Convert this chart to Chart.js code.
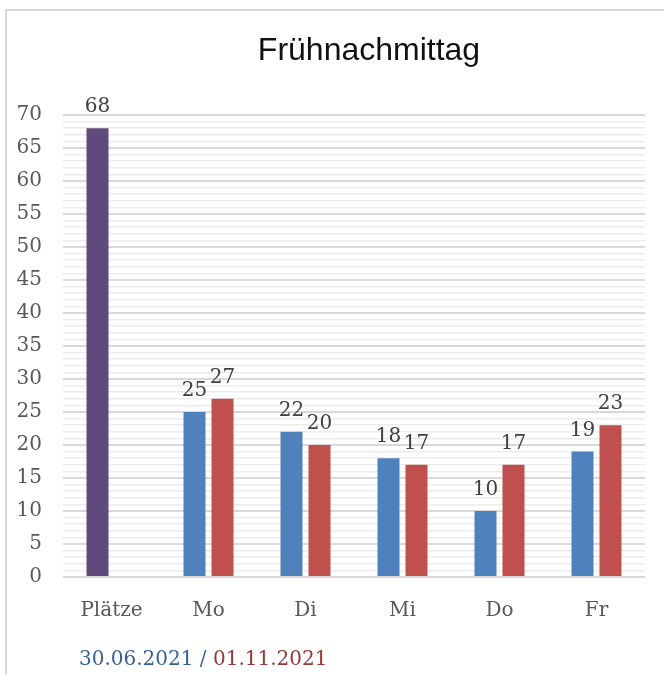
<!DOCTYPE html>
<html>
<head>
<meta charset="utf-8">
<script src="https://cdn.jsdelivr.net/npm/chart.js@4/dist/chart.umd.min.js"></script>
<style>
  html, body { margin: 0; padding: 0; background: #fff; overflow: hidden; }
  #wrap { position: relative; width: 664px; height: 675px; }
  #frame { position: absolute; left: 5px; top: 9px; width: 800px; height: 800px;
           border-top: 2px solid #d9d9d9; border-left: 2px solid #d9d9d9; }
  #chart { position: absolute; left: 0; top: 0; }
</style>
</head>
<body>
<div id="wrap">
  <div id="frame"></div>
  <canvas id="chart" width="664" height="675"></canvas>
</div>
<script>
const categories = ['Plätze', 'Mo', 'Di', 'Mi', 'Do', 'Fr'];
// first slot: seats (purple) + 30.06.2021
const firstValues = [68, 25, 22, 18, 10, 19];
// second slot: 01.11.2021
const secondValues = [null, 27, 20, 17, 17, 23];
const yMax = 70;
const yMajorStep = 5;
const chartTitle = 'Frühnachmittag';
const footerParts = ['30.06.2021 / ', '01.11.2021'];

const purple = '#604a7b';
const blue = '#4f81bd';
const red = '#c0504d';
const serif = "'DejaVu Serif', serif";

// value labels above bars
const valueLabels = {
  id: 'valueLabels',
  afterDatasetsDraw(chart) {
    const ctx = chart.ctx;
    ctx.save();
    ctx.font = '20px ' + serif;
    ctx.fillStyle = '#404040';
    ctx.textAlign = 'center';
    ctx.textBaseline = 'alphabetic';
    chart.data.datasets.forEach((ds, i) => {
      chart.getDatasetMeta(i).data.forEach((bar, j) => {
        const v = ds.data[j];
        if (v == null) return;
        ctx.fillText(String(v), bar.x, bar.y - 16);
      });
    });
    ctx.restore();
  }
};

// title and the two coloured dates below the chart
const extraText = {
  id: 'extraText',
  afterDraw(chart) {
    const ctx = chart.ctx;
    ctx.save();
    ctx.font = "32px 'Liberation Sans', Arial, sans-serif";
    ctx.fillStyle = '#111';
    ctx.textAlign = 'center';
    ctx.textBaseline = 'alphabetic';
    ctx.fillText(chartTitle, 369, 60);

    ctx.font = '20px ' + serif;
    ctx.textAlign = 'left';
    let x = 79;
    ctx.fillStyle = '#376092';
    ctx.fillText(footerParts[0], x, 665);
    x += ctx.measureText(footerParts[0]).width;
    ctx.fillStyle = '#953735';
    ctx.fillText(footerParts[1], x, 665);
    ctx.restore();
  }
};

new Chart(document.getElementById('chart').getContext('2d'), {
  type: 'bar',
  data: {
    labels: categories,
    datasets: [{
      data: firstValues,
      backgroundColor: firstValues.map((v, i) => i === 0 ? purple : blue),
      categoryPercentage: 0.577,
      barPercentage: 0.786
    }, {
      data: secondValues,
      backgroundColor: red,
      categoryPercentage: 0.577,
      barPercentage: 0.786
    }]
  },
  options: {
    responsive: false,
    animation: false,
    layout: { padding: { left: 0, right: 19, top: 115, bottom: 0 } },
    plugins: {
      legend: { display: false },
      tooltip: { enabled: false },
      title: { display: false }
    },
    scales: {
      x: {
        grid: { display: false },
        border: { display: false },
        ticks: {
          color: '#595959',
          font: { family: serif, size: 20 },
          padding: 14,
          maxRotation: 0
        },
        afterFit(scale) { scale.height = 98; }
      },
      y: {
        min: 0,
        max: yMax,
        border: { display: false },
        grid: {
          drawTicks: false,
          color: c => c.tick.value % yMajorStep === 0 ? '#d9d9d9' : '#ececec',
          lineWidth: c => c.tick.value % yMajorStep === 0 ? 2 : 1.5
        },
        ticks: {
          stepSize: 1,
          autoSkip: false,
          color: '#595959',
          font: { family: serif, size: 20 },
          padding: 21,
          callback: v => v % yMajorStep === 0 ? v : ''
        },
        afterFit(scale) { scale.width = 63; }
      }
    }
  },
  plugins: [valueLabels, extraText]
});
</script>
</body>
</html>
